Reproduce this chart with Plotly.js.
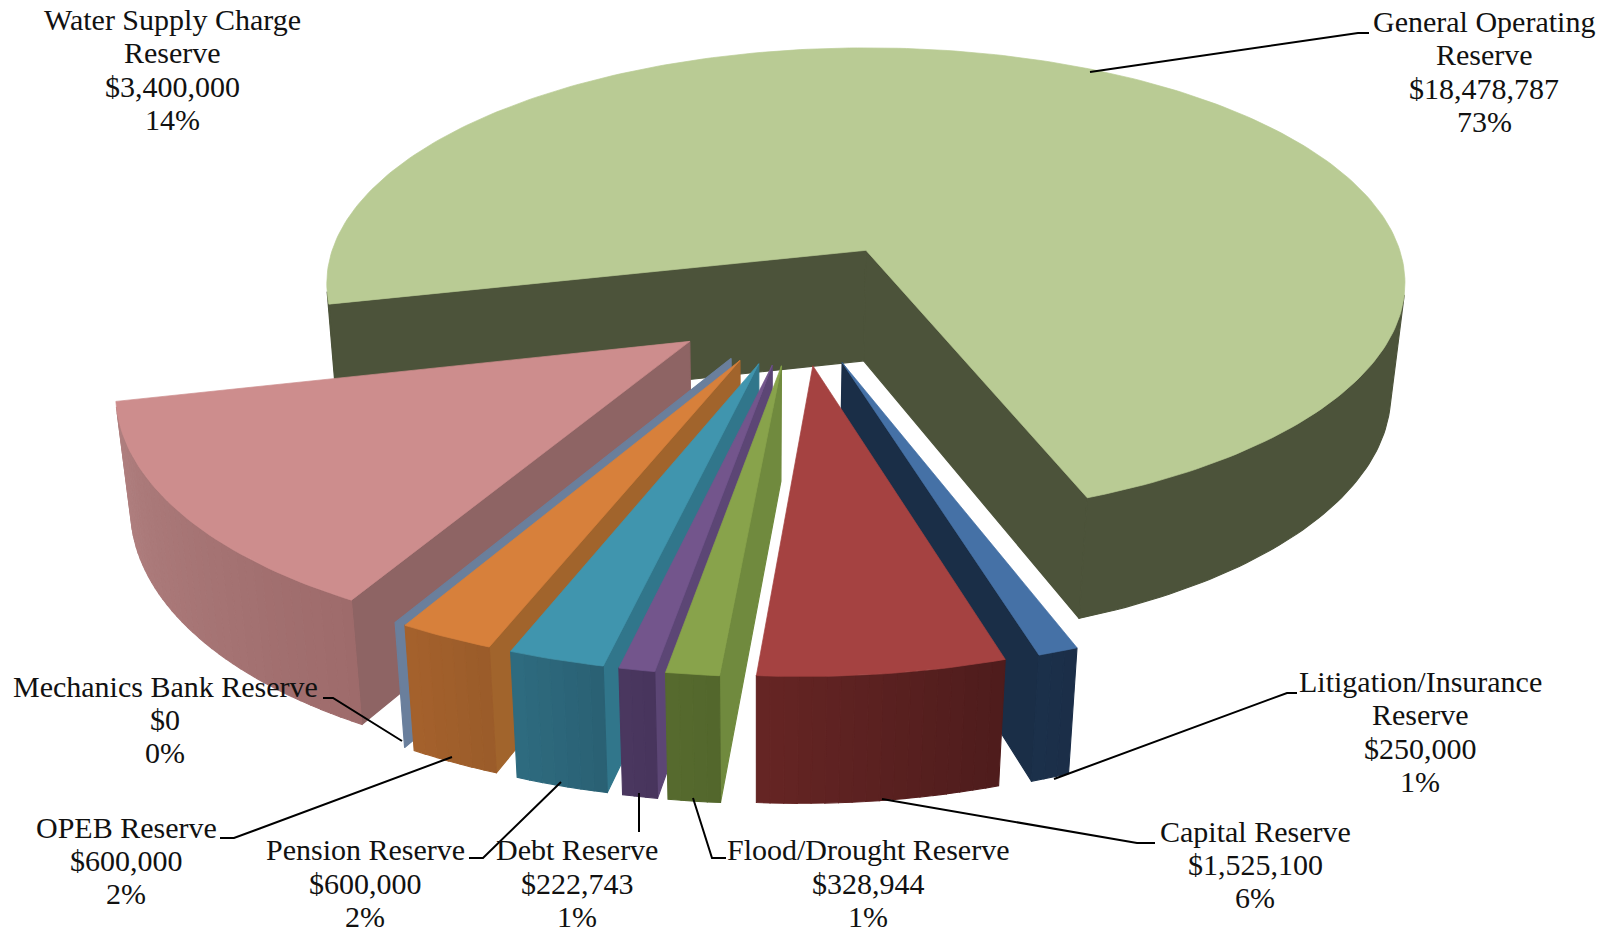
<!DOCTYPE html>
<html>
<head>
<meta charset="utf-8">
<script src="https://cdn.plot.ly/plotly-3.0.1.min.js"></script>
<style>html,body{margin:0;padding:0;background:#fff}#chart{width:1614px;height:932px}</style>
</head>
<body>
<div id="chart"></div>
<script>
// Reserve balances, clockwise from the start of the General Operating slice
const reserveNames = ['General Operating<br>Reserve', 'Litigation/Insurance<br>Reserve', 'Capital Reserve',
  'Flood/Drought Reserve', 'Debt Reserve', 'Pension Reserve', 'OPEB Reserve', 'Mechanics Bank Reserve',
  'Water Supply Charge<br>Reserve'];
const reserveValues = [18478787, 250000, 1525100, 328944, 222743, 600000, 600000, 0, 3400000];
const reservePercents = ['73%', '1%', '6%', '1%', '1%', '2%', '2%', '0%', '14%'];

// Colours per slice: top face, radial side wall, outer rim at its left and right ends
const topColors  = ['#b9cb94', '#4571a6', '#a54241', '#88a34b', '#73558c', '#4095ae', '#d7803b', '#6a7f9c', '#cd8d8d'];
const faceColors = ['#4c533a', '#1a2e47', '#5a2020', '#708a3e', '#5c4675', '#31768b', '#a1642c', '#6a7f9c', '#8e6464'];
const rimLeft    = ['#4c533a', '#1b304b', '#662524', '#566a2e', '#4a3760', '#2e6c80', '#a5612c', '#6f84a0', '#b08080'];
const rimRight   = ['#4c533a', '#1b2e47', '#4e1c1c', '#52662c', '#47355c', '#2a6073', '#9a5c2a', '#6f84a0', '#9e6b6b'];

// Distance each slice is pulled out of the pie, in pie radii
const explodeBy = [0.259, 0.24, 0.24, 0.24, 0.24, 0.24, 0.24, 0.24, 0.24];

// Slices are stacked back to front in this order
const paintOrder = [0, 8, 7, 6, 5, 4, 3, 1, 2];

// Label centres and the leader polylines, in page pixels
const labelX = [1484, 1420, 1255, 868, 577, 365, 126, 165, 172];
const labelY = [71.5, 731.5, 864.5, 883, 883, 883, 860.5, 719.5, 69.5];
const linePitch = 33.3;
const leaderPaths = [
  [[1369, 33], [1358, 33], [1090, 72]],
  [[1297, 693], [1287, 693], [1054, 779]],
  [[1155, 843], [1137, 843], [882, 799]],
  [[726, 858], [712, 858], [693, 798]],
  [[639, 793], [639, 832]],
  [[469, 858], [483, 858], [561, 782]],
  [[220, 838], [234, 838], [452, 757]],
  [[323, 698], [333, 698], [402, 741]]
];

// Pie geometry: first slice edge in degrees counter-clockwise from +x, sweeping clockwise
const startAngle = 193.05;
const pieOffset = [-0.1305, -0.226];
const view = {cx: 871, cy: 251, vanishX: 757, R: 534, H: 231, V: 113, k: 0.14, m: 0.022};

// Perspective projection of a pie-space point; z is 0 on the top face, 1 at the base
function project(X, Y, z) {
  const px = X + pieOffset[0], py = Y + pieOffset[1];
  const w0 = 1 + view.k * py, w = w0 + view.m * z;
  const topX = view.cx + view.R * px / w0;
  return [view.vanishX + (topX - view.vanishX) * w0 / w, view.cy - (view.H * py - view.V * z) / w];
}
function signedArea(pts) {
  let s = 0;
  pts.forEach((p, i) => { const q = pts[(i + 1) % pts.length]; s += p[0] * q[1] - q[0] * p[1]; });
  return s;
}
function polygon(pts, color, edge) {
  const xs = pts.map(p => p[0]).concat(pts[0][0]);
  const ys = pts.map(p => p[1]).concat(pts[0][1]);
  return {type: 'scatter', mode: 'lines', x: xs, y: ys, fill: 'toself', fillcolor: color,
    line: {color: color, width: edge}, hoverinfo: 'skip', showlegend: false};
}
function mixColor(a, b, t) {
  const c = (h, i) => parseInt(h.substr(1 + 2 * i, 2), 16);
  const part = i => Math.round(c(a, i) + (c(b, i) - c(a, i)) * t);
  return `rgb(${part(0)},${part(1)},${part(2)})`;
}

// Angular extents come straight from the balances
const total = reserveValues.reduce((a, b) => a + b, 0);
const sweeps = reserveValues.map(v => v / total * 360);
const starts = sweeps.map((_, i) => startAngle - sweeps.slice(0, i).reduce((a, b) => a + b, 0));

const traces = [];
paintOrder.forEach(i => {
  const a0 = starts[i], a1 = a0 - sweeps[i], mid = (a0 + a1) / 2 * Math.PI / 180;
  const ox = explodeBy[i] * Math.cos(mid), oy = explodeBy[i] * Math.sin(mid);
  const rimAt = (deg, z) => project(ox + Math.cos(deg * Math.PI / 180), oy + Math.sin(deg * Math.PI / 180), z);
  const apex = z => project(ox, oy, z);

  // Radial walls, only where they turn toward the viewer; an empty slice is just this wall
  const startFace = [apex(0), rimAt(a0, 0), rimAt(a0, 1), apex(1)];
  const endFace = [apex(0), rimAt(a1, 0), rimAt(a1, 1), apex(1)];
  if (signedArea(startFace) < 0) traces.push(polygon(startFace, faceColors[i], 1.2));
  if (sweeps[i] > 0 && signedArea(endFace) > 0) traces.push(polygon(endFace, faceColors[i], 1.2));
  if (sweeps[i] === 0) return;

  // Outer rim: one flat strip for a uniform wall, otherwise narrow shaded bands.
  // Every unbroken run of front-facing steps becomes its own strip.
  const uniform = rimLeft[i] === rimRight[i];
  const bands = uniform ? 1 : Math.max(2, Math.round(sweeps[i] / 1.2));
  for (let b = 0; b < bands; b++) {
    const d0 = a0 - sweeps[i] * b / bands, d1 = a0 - sweeps[i] * (b + 1) / bands;
    const steps = Math.max(1, Math.ceil(Math.abs(d0 - d1)));
    const color = mixColor(rimRight[i], rimLeft[i], (b + 0.5) / bands);
    let upper = [], lower = [];
    const flush = () => {
      if (upper.length) traces.push(polygon(upper.concat(lower.reverse()), color, 1.1));
      upper = []; lower = [];
    };
    for (let s = 0; s < steps; s++) {
      const e0 = d0 + (d1 - d0) * s / steps, e1 = d0 + (d1 - d0) * (s + 1) / steps;
      if (signedArea([rimAt(e0, 0), rimAt(e1, 0), rimAt(e1, 1), rimAt(e0, 1)]) < 0) {
        if (!upper.length) { upper.push(rimAt(e0, 0)); lower.push(rimAt(e0, 1)); }
        upper.push(rimAt(e1, 0)); lower.push(rimAt(e1, 1));
      } else {
        flush();
      }
    }
    flush();
  }

  // Top face
  const top = [apex(0)];
  const topSteps = Math.max(2, Math.ceil(sweeps[i]));
  for (let s = 0; s <= topSteps; s++) top.push(rimAt(a0 - sweeps[i] * s / topSteps, 0));
  traces.push(polygon(top, topColors[i], 0.7));
});

// Each text line is placed on its own so the leading stays tighter than the default
const money = v => '$' + v.toLocaleString('en-US');
const annotations = [];
reserveNames.forEach((name, i) => {
  const lines = name.split('<br>').concat(money(reserveValues[i]), reservePercents[i]);
  lines.forEach((line, j) => annotations.push({
    x: labelX[i], y: labelY[i] + (j - (lines.length - 1) / 2) * linePitch, xref: 'x', yref: 'y',
    xanchor: 'center', yanchor: 'middle', align: 'center', showarrow: false, text: line,
    font: {family: '"Liberation Serif", serif', size: 30, color: '#111'}
  }));
});
const shapes = leaderPaths.map(path => ({
  type: 'path', xref: 'x', yref: 'y',
  path: path.map((p, j) => (j ? 'L' : 'M') + p[0] + ',' + p[1]).join(' '),
  line: {color: '#000', width: 2}
}));

Plotly.newPlot('chart', traces, {
  width: 1614, height: 932, margin: {l: 0, r: 0, t: 0, b: 0},
  paper_bgcolor: '#fff', plot_bgcolor: '#fff', showlegend: false,
  xaxis: {range: [0, 1614], visible: false, fixedrange: true},
  yaxis: {range: [932, 0], visible: false, fixedrange: true},
  annotations, shapes
}, {displayModeBar: false, staticPlot: true});
</script>
</body>
</html>
